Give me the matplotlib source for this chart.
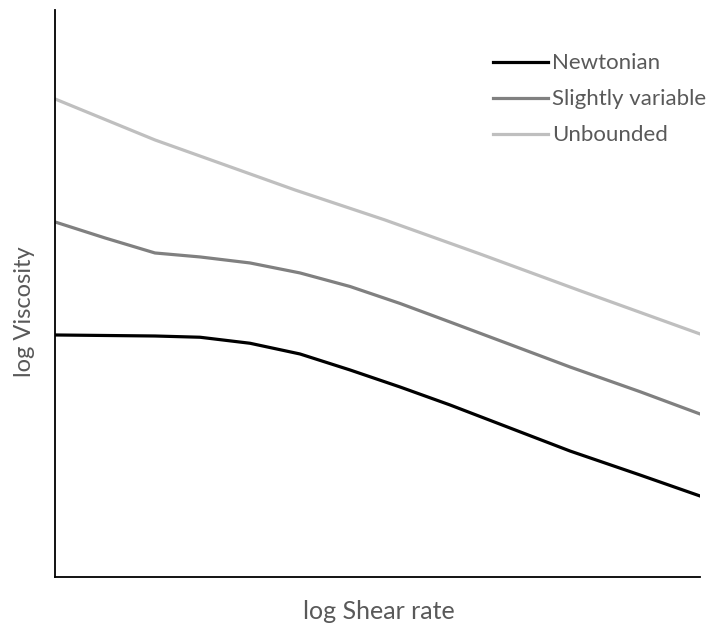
import numpy as np
import matplotlib.pyplot as plt

plt.rcParams['font.family'] = ['Lato', 'DejaVu Sans']

# log shear rate positions (arbitrary units) and log viscosity for each fluid
x_newtonian = [0, 0.775, 1.550, 2.248, 3.023, 3.798, 4.574, 5.349, 6.124,
               7.054, 7.984, 9.070, 10]
y_newtonian = [4.268, 4.259, 4.250, 4.228, 4.122, 3.933, 3.651, 3.351, 3.034,
               2.628, 2.222, 1.799, 1.429]

x_slight = [0, 0.775, 1.550, 2.248, 3.023, 3.798, 4.574, 5.349, 6.124,
            7.054, 7.984, 9.070, 10]
y_slight = [6.261, 5.979, 5.714, 5.644, 5.538, 5.362, 5.123, 4.824, 4.497,
            4.101, 3.704, 3.268, 2.875]

x_unbounded = [0, 1.550, 2.636, 3.721, 5.116, 6.589, 8.140, 10]
y_unbounded = [8.430, 7.707, 7.266, 6.825, 6.296, 5.697, 5.049, 4.286]

text_color = '#595959'

fig = plt.figure(figsize=(7.08, 6.28), dpi=100)
ax = fig.add_axes([0.0777, 0.0812, 0.911, 0.903])

ax.plot(x_newtonian, y_newtonian, color='black', lw=2.3, label='Newtonian',
        solid_joinstyle='round')
ax.plot(x_slight, y_slight, color='#808080', lw=2.3, label='Slightly variable',
        solid_joinstyle='round')
ax.plot(x_unbounded, y_unbounded, color='#bfbfbf', lw=2.3, label='Unbounded',
        solid_joinstyle='round')

ax.set_xlim(0, 10)
ax.set_ylim(0, 10)
ax.set_xticks([])
ax.set_yticks([])
for side in ['top', 'right']:
    ax.spines[side].set_visible(False)
for side in ['left', 'bottom']:
    ax.spines[side].set_linewidth(1.3)
    ax.spines[side].set_color('black')

fig.text(0.535, 0.027, 'log Shear rate', ha='center', va='center',
         fontsize=18, color=text_color)
fig.text(0.034, 0.503, 'log Viscosity', ha='center', va='center',
         rotation=90, fontsize=17, color=text_color)

leg = ax.legend(loc='upper left', bbox_to_anchor=(0.696, 0.915),
                bbox_transform=fig.transFigure, frameon=False,
                fontsize=16, handlelength=2.48, handletextpad=0.18,
                labelspacing=0.72, borderaxespad=0, borderpad=0)
for t in leg.get_texts():
    t.set_color(text_color)

fig.savefig('out.png', dpi=100)
